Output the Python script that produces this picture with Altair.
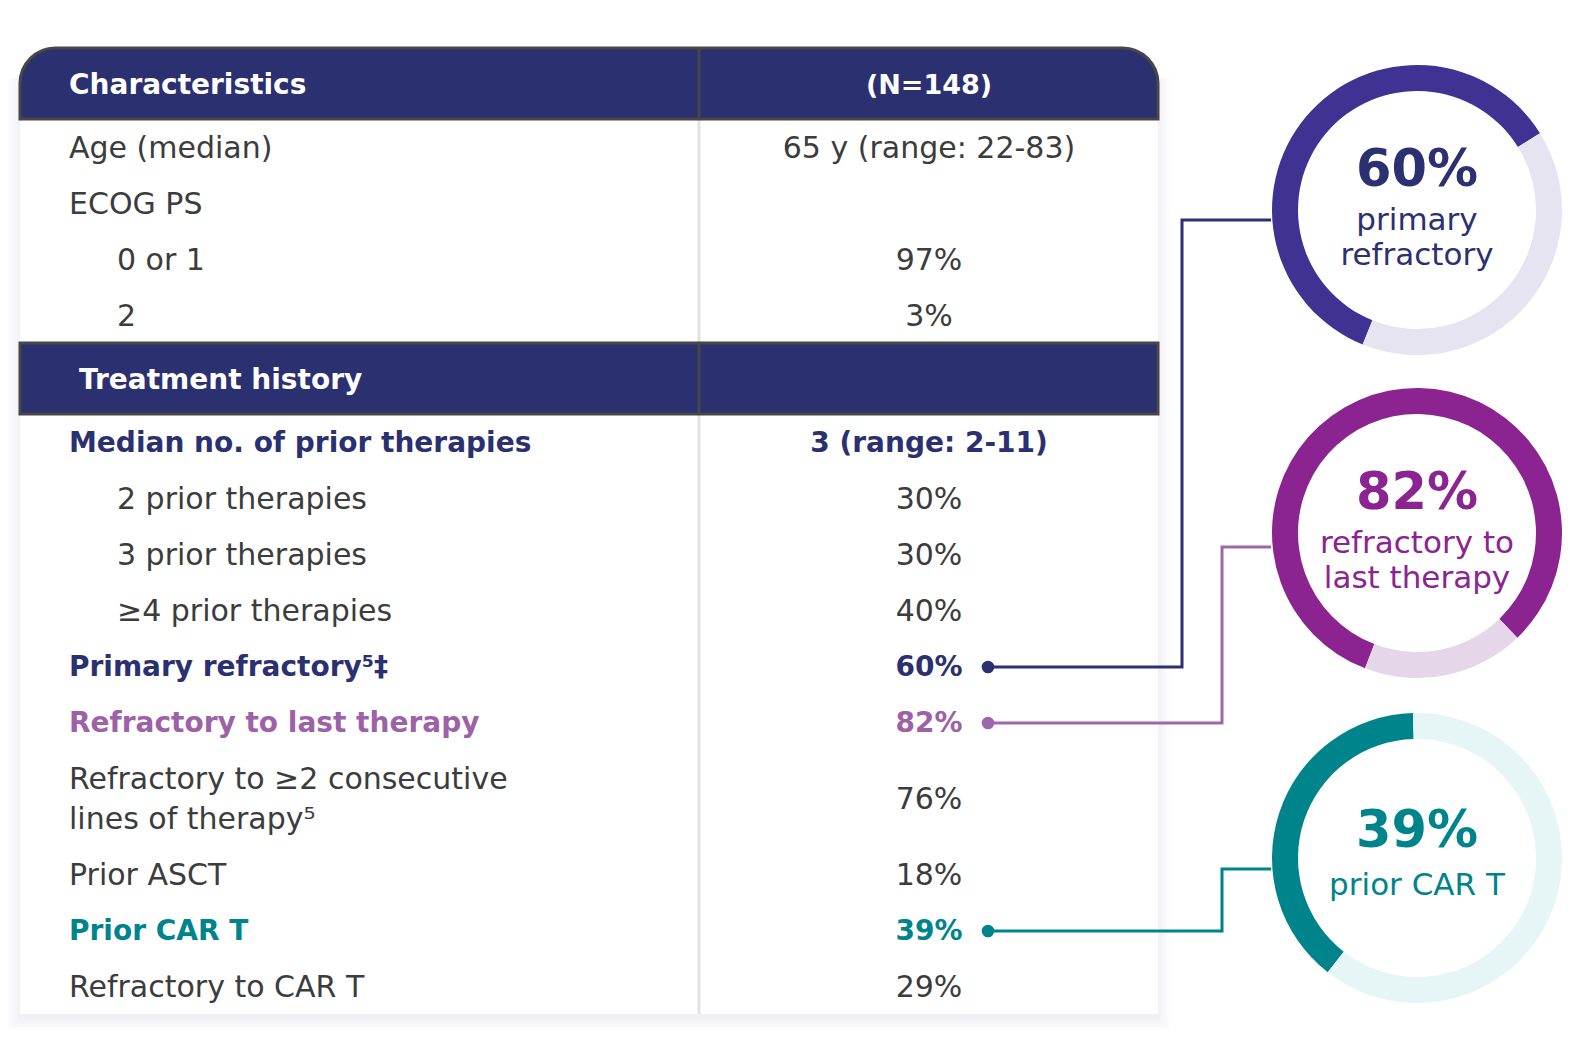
import math
import altair as alt
import pandas as pd

# ---- table content ----
section_titles = ["Characteristics", "Treatment history"]
section_values = ["(N=148)", ""]

char_labels = ["Age (median)", "ECOG PS", "0 or 1", "2"]
char_values = ["65 y (range: 22-83)", "", "97%", "3%"]
char_indent = [0, 0, 1, 1]
char_style = ["plain", "plain", "plain", "plain"]

hist_labels = ["Median no. of prior therapies", "2 prior therapies", "3 prior therapies",
               "≥4 prior therapies", "Primary refractory⁵‡", "Refractory to last therapy",
               "Refractory to ≥2 consecutive\nlines of therapy⁵", "Prior ASCT", "Prior CAR T",
               "Refractory to CAR T"]
hist_values = ["3 (range: 2-11)", "30%", "30%", "40%", "60%", "82%", "76%", "18%", "39%", "29%"]
hist_indent = [0, 1, 1, 1, 0, 0, 0, 0, 0, 0]
hist_style = ["navy", "plain", "plain", "plain", "navy", "purple", "plain", "plain", "teal", "plain"]

# ---- donuts ----
donut_pct = [60, 82, 39]
donut_caption = ["primary\nrefractory", "refractory to\nlast therapy", "prior CAR T"]
donut_row = ["Primary refractory⁵‡", "Refractory to last therapy", "Prior CAR T"]

# ---- look / layout ----
W, H = 1554, 1028
FONT = "DejaVu Sans"
NAVY = "#2b3070"
TEXT = "#3c3c3c"
style_color = {"plain": TEXT, "navy": NAVY, "purple": "#9d61a7", "teal": "#00848b"}
donut_dark = ["#3f3292", "#8b2490", "#00848b"]
donut_light = ["#e6e4f0", "#e5d6ea", "#e6f5f6"]
donut_text = [NAVY, "#8b2490", "#00848b"]
link_color = [NAVY, "#a066aa", "#00848b"]
donut_start = [202, 201, 218]  # degrees, clockwise from 12 o'clock
donut_cy = [210, 533, 858]
DONUT_CX, R_OUT, R_IN = 1417, 145, 119
link_elbow = [1182, 1222, 1222]
link_end_y = [220, 547, 869]
DOT_X, LINK_END_X = 988, 1271

TABLE_L, TABLE_R, TABLE_TOP, SPLIT = 20, 1158, 48, 699
LABEL_X, INDENT_X, VALUE_X = 69, 117, 929
header_text_x = [69, 79]
HEAD_H, ROW_H, LINE_H = 71, 56, 40
TEXT_DY = 2
CAP_LINE_H = 35

xs = alt.Scale(domain=[8, 8 + W], nice=False, zero=False)
ys = alt.Scale(domain=[8, 8 + H], nice=False, zero=False, reverse=True)


def X(f):
    return alt.X(f"{f}:Q", scale=xs, axis=None)


def Y(f):
    return alt.Y(f"{f}:Q", scale=ys, axis=None)


# build table rows
sections = [
    (char_labels, char_values, char_indent, char_style),
    (hist_labels, hist_values, hist_indent, hist_style),
]
heads, rows = [], []
y = TABLE_TOP
for i, (labels, values, indent, style) in enumerate(sections):
    heads.append(dict(title=section_titles[i], value=section_values[i], tx=header_text_x[i],
                      vx=VALUE_X, left=TABLE_L, right=TABLE_R, split=SPLIT,
                      top=y, bottom=y + HEAD_H, mid=y + HEAD_H / 2 + TEXT_DY, first=i == 0))
    y += HEAD_H
    for lab, val, ind, st in zip(labels, values, indent, style):
        n = lab.count("\n")
        h = ROW_H + LINE_H * n
        mid = y + h / 2
        rows.append(dict(label=lab, value=val, lx=INDENT_X if ind else LABEL_X, vx=VALUE_X,
                         y=mid, ly=mid - LINE_H * n / 2 + TEXT_DY, vy=mid + TEXT_DY,
                         color=style_color[st], bold=st != "plain"))
        y += h
TABLE_BOTTOM = y

heads_df = pd.DataFrame(heads)
rows_df = pd.DataFrame(rows)

# soft shadow + white body
shadow_df = pd.DataFrame([dict(left=TABLE_L - k, right=TABLE_R + k, top=TABLE_TOP + 30,
                               bottom=TABLE_BOTTOM + 4 + k) for k in [1, 3, 6, 9, 12]])
shadow = alt.Chart(shadow_df).mark_rect(color="#d9d3e6", opacity=0.07).encode(
    x=X("left"), x2="right", y=Y("top"), y2="bottom")

body_df = pd.DataFrame([dict(left=TABLE_L, right=TABLE_R, top=TABLE_TOP + 20,
                             bottom=TABLE_BOTTOM, split=SPLIT)])
body = alt.Chart(body_df).mark_rect(color="white").encode(
    x=X("left"), x2="right", y=Y("top"), y2="bottom")
body_rule = alt.Chart(body_df).mark_rule(color="#e2e2e2", strokeWidth=3).encode(
    x=X("split"), y=Y("top"), y2="bottom")

head_base = alt.Chart(heads_df)
head_first = head_base.transform_filter("datum.first").mark_rect(
    fill=NAVY, stroke="#474747", strokeWidth=3, cornerRadiusTopLeft=44, cornerRadiusTopRight=44
).encode(x=X("left"), x2="right", y=Y("top"), y2="bottom")
head_other = head_base.transform_filter("!datum.first").mark_rect(
    fill=NAVY, stroke="#474747", strokeWidth=3
).encode(x=X("left"), x2="right", y=Y("top"), y2="bottom")
head_rule = head_base.mark_rule(color="#474747", strokeWidth=3).encode(
    x=X("split"), y=Y("top"), y2="bottom")
head_title = head_base.mark_text(align="left", baseline="middle", font=FONT, fontSize=28,
                                 fontWeight="bold", color="white").encode(
    x=X("tx"), y=Y("mid"), text="title:N")
head_value = head_base.mark_text(align="center", baseline="middle", font=FONT, fontSize=27,
                                 fontWeight="bold", color="white").encode(
    x=X("vx"), y=Y("mid"), text="value:N")

txt = dict(baseline="middle", font=FONT, lineBreak="\n", lineHeight=LINE_H)
row_base = alt.Chart(rows_df)
label_plain = row_base.transform_filter("!datum.bold").mark_text(
    align="left", fontSize=30, **txt).encode(
    x=X("lx"), y=Y("ly"), text="label:N", color=alt.Color("color:N", scale=None))
label_bold = row_base.transform_filter("datum.bold").mark_text(
    align="left", fontSize=28, fontWeight="bold", **txt).encode(
    x=X("lx"), y=Y("ly"), text="label:N", color=alt.Color("color:N", scale=None))
value_plain = row_base.transform_filter("!datum.bold").mark_text(
    align="center", fontSize=30, **txt).encode(
    x=X("vx"), y=Y("vy"), text="value:N", color=alt.Color("color:N", scale=None))
value_bold = row_base.transform_filter("datum.bold").mark_text(
    align="center", fontSize=28, fontWeight="bold", **txt).encode(
    x=X("vx"), y=Y("vy"), text="value:N", color=alt.Color("color:N", scale=None))

# connectors
row_y = dict(zip(rows_df["label"], rows_df["y"]))
pts = []
for i in range(len(donut_pct)):
    ry = row_y[donut_row[i]] + 1
    path = [(DOT_X, ry), (link_elbow[i], ry), (link_elbow[i], link_end_y[i]),
            (LINK_END_X, link_end_y[i])]
    for s, (px, py) in enumerate(path):
        pts.append(dict(link=i, step=s, x=px, y=py, color=link_color[i]))
pts_df = pd.DataFrame(pts)
links = alt.Chart(pts_df).mark_line(strokeWidth=3, strokeJoin="miter").encode(
    x=X("x"), y=Y("y"), detail="link:N", order="step:Q",
    color=alt.Color("color:N", scale=None))
dots = alt.Chart(pts_df).transform_filter("datum.step == 0").mark_circle(size=160, opacity=1).encode(
    x=X("x"), y=Y("y"), color=alt.Color("color:N", scale=None))

# donuts
donut_layers = []
for i, pct in enumerate(donut_pct):
    d = pd.DataFrame({"part": [0, 1], "share": [pct, 100 - pct],
                      "fill": [donut_dark[i], donut_light[i]],
                      "cx": DONUT_CX, "cy": donut_cy[i]})
    a0 = math.radians(donut_start[i])
    donut_layers.append(alt.Chart(d).mark_arc(radius=R_OUT, radius2=R_IN).encode(
        x=X("cx"), y=Y("cy"),
        theta=alt.Theta("share:Q", stack=True, scale=alt.Scale(range=[a0, a0 + 2 * math.pi])),
        order=alt.Order("part:Q"),
        color=alt.Color("fill:N", scale=None)))

n_cap = [c.count("\n") for c in donut_caption]
dt = pd.DataFrame({
    "title": [f"{p}%" for p in donut_pct],
    "caption": donut_caption,
    "cx": DONUT_CX,
    "ty": [cy - (39 if n else 26) for cy, n in zip(donut_cy, n_cap)],
    "cy2": [cy + 28 - CAP_LINE_H * n / 2 for cy, n in zip(donut_cy, n_cap)],
    "color": donut_text,
})
donut_title = alt.Chart(dt).mark_text(align="center", baseline="middle", font=FONT,
                                      fontSize=51, fontWeight="bold").encode(
    x=X("cx"), y=Y("ty"), text="title:N", color=alt.Color("color:N", scale=None))
donut_cap = alt.Chart(dt).mark_text(align="center", baseline="middle", font=FONT, fontSize=31,
                                    lineBreak="\n", lineHeight=CAP_LINE_H).encode(
    x=X("cx"), y=Y("cy2"), text="caption:N", color=alt.Color("color:N", scale=None))

chart = alt.layer(
    shadow, body, body_rule, head_first, head_other, head_rule, head_title, head_value,
    label_plain, label_bold, value_plain, value_bold, links, dots,
    *donut_layers, donut_title, donut_cap
).resolve_scale(theta="independent").properties(
    width=W, height=H, autosize=alt.AutoSizeParams(type="none"), padding=0
).configure_view(stroke=None)

chart.save("out.html", embed_options={"renderer": "svg", "actions": False})
